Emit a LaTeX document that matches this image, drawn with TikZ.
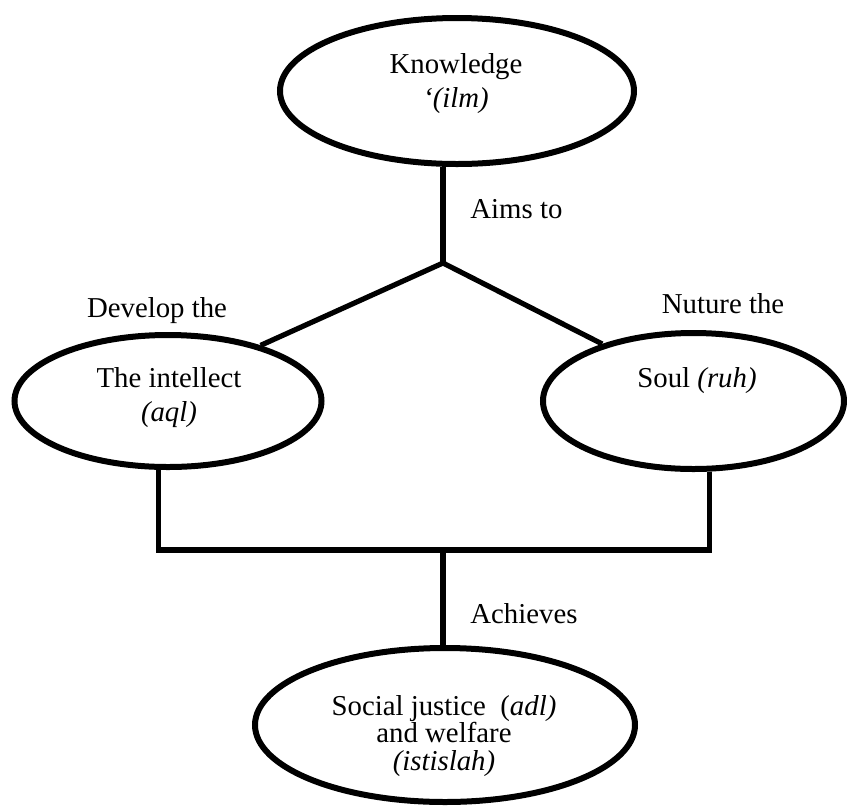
\documentclass[tikz,border=0pt]{standalone}
\usepackage{fontspec}
\setmainfont{Liberation Serif}
\usetikzlibrary{shapes.geometric}

\begin{document}
\begin{tikzpicture}[
    x=0.5pt, y=-0.5pt,
    every node/.style={align=center, inner sep=0pt, font=\fontsize{14.4}{17}\selectfont},
    oval/.style 2 args={draw, ellipse, line width=3pt, minimum width=#1, minimum height=#2},
    link/.style={line width=2.6pt}
]
    \useasboundingbox (0,0) rectangle (847,810);

    % Ovals
    \node[oval={177pt}{73pt}] (knowledge) at (457,91) {};
    \node[oval={153.5pt}{66pt}] (intellect) at (168,401) {};
    \node[oval={150.5pt}{68pt}] (soul) at (693.5,401) {};
    \node[oval={190pt}{77pt}] (justice) at (445,725) {};

    % Texts in the ovals
    \node (knowledgetxt) at (456,84) {Knowledge\\\textit{`(ilm)}};
    \node (intellecttxt) at (169,398) {The intellect\\\textit{(aql)}};
    \node (soultxt) at (697,381) {Soul \textit{(ruh)}};
    \node[font=\fontsize{14.4}{13.75}\selectfont] (justicetxt) at (444,736) {Social justice\ \ (\textit{adl)}\\and welfare\\\textit{(istislah)}};

    % Labels
    \node[anchor=base west] (aims) at (470,218) {Aims to};
    \node[anchor=base] (develop) at (157,317) {Develop the};
    \node[anchor=base] (nuture) at (723,313) {Nuture the};
    \node[anchor=base west] (achieves) at (470,623) {Achieves};

    % Branch points
    \coordinate (split) at (443,263);
    \coordinate (merge) at (443,550);

    % Connectors
    \draw[link] (knowledge.south -| split) -- (split);
    \draw[link] (split) -- (intellect.31);
    \draw[link] (split) -- (soul.148);
    \draw[link] (intellect.262) |- (merge) -| (soul.283);
    \draw[link] (merge) -- (justice.north -| merge);
\end{tikzpicture}
\end{document}
